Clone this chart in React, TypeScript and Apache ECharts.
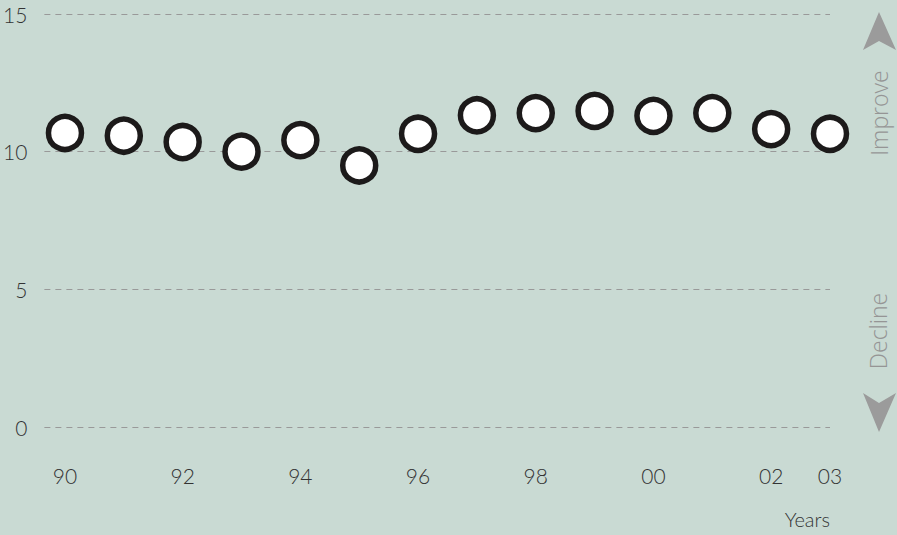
import React, { useEffect, useRef } from "react";
import * as echarts from "echarts";

const years = [1990, 1991, 1992, 1993, 1994, 1995, 1996, 1997, 1998, 1999, 2000, 2001, 2002, 2003];
const values = [10.68, 10.58, 10.35, 10.0, 10.42, 9.5, 10.65, 11.32, 11.4, 11.48, 11.3, 11.4, 10.82, 10.65];
const xLabelYears = [1990, 1992, 1994, 1996, 1998, 2000, 2002, 2003];
const yTicks = [0, 5, 10, 15];

const FONT = "Lato";

export default function App() {
  const ref = useRef<HTMLDivElement>(null);
  useEffect(() => {
    if (!ref.current) return;
    const chart = echarts.init(ref.current, null, { renderer: "svg" });
    chart.setOption({
      animation: false,
      backgroundColor: "#c9dad3",
      grid: { left: 42, right: 67, top: 14, bottom: 108, containLabel: false },
      xAxis: {
        type: "value",
        min: 1989.65,
        max: 2003,
        axisLine: { show: false },
        axisTick: { show: false },
        splitLine: { show: false },
        axisLabel: {
          customValues: xLabelYears,
          margin: 38,
          color: "#333",
          fontFamily: FONT,
          fontWeight: 300,
          fontSize: 21,
          formatter: (v: number) => String(v % 100).padStart(2, "0"),
        },
      },
      yAxis: {
        type: "value",
        min: yTicks[0],
        max: yTicks[yTicks.length - 1],
        interval: 5,
        axisLine: { show: false },
        axisTick: { show: false },
        axisLabel: {
          margin: 17,
          color: "#333",
          fontFamily: FONT,
          fontWeight: 300,
          fontSize: 21,
        },
        splitLine: {
          show: true,
          lineStyle: { color: "#999", width: 1, type: [6, 5] },
        },
      },
      series: [
        {
          type: "scatter",
          data: years.map((y, i) => [y, values[i]]),
          symbol: "circle",
          symbolSize: 33,
          itemStyle: { color: "#ffffff", borderColor: "#1c1a1a", borderWidth: 5.5, opacity: 1 },
          z: 5,
        },
      ],
      graphic: [
        {
          type: "text",
          right: 67,
          top: 509,
          style: { text: "Years", fill: "#333", font: `300 20px ${FONT}`, textAlign: "right" },
        },
        {
          type: "polygon",
          shape: { points: [[879, 12], [896, 50], [879, 41], [863, 50]] },
          style: { fill: "#9b9b9b" },
        },
        {
          type: "polygon",
          shape: { points: [[863, 393], [879, 403], [896, 393], [879, 432]] },
          style: { fill: "#9b9b9b" },
        },
        {
          type: "text",
          x: 879,
          y: 113,
          rotation: Math.PI / 2,
          style: {
            text: "Improve",
            fill: "#959595",
            font: `300 23px "Open Sans"`,
            textAlign: "center",
            textVerticalAlign: "middle",
          },
        },
        {
          type: "text",
          x: 878,
          y: 331,
          rotation: Math.PI / 2,
          style: {
            text: "Decline",
            fill: "#959595",
            font: `300 23px "Open Sans"`,
            textAlign: "center",
            textVerticalAlign: "middle",
          },
        },
      ],
    });
    return () => chart.dispose();
  }, []);
  return (
    <div
      ref={ref}
      style={{ position: "absolute", left: 0, top: 0, width: 897, height: 535 }}
    />
  );
}
